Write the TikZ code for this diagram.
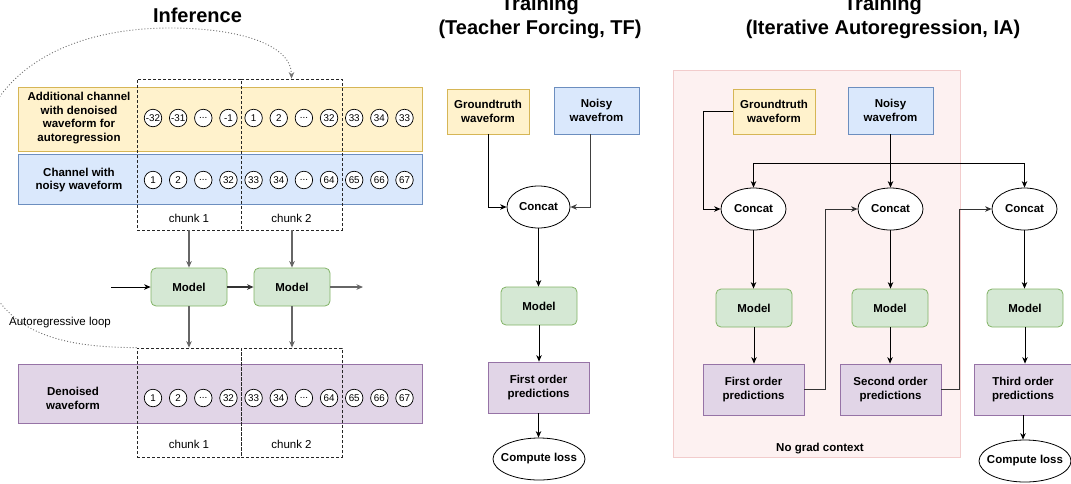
\documentclass[tikz,border=0pt]{standalone}
\usepackage{fontspec}
\setmainfont{Liberation Sans}
\usetikzlibrary{arrows.meta,shapes.geometric}
\definecolor{ylF}{HTML}{FFF2CC}\definecolor{ylD}{HTML}{D6B656}
\definecolor{blF}{HTML}{DAE8FC}\definecolor{blD}{HTML}{6C8EBF}
\definecolor{grF}{HTML}{D5E8D4}\definecolor{grD}{HTML}{82B366}
\definecolor{puF}{HTML}{E1D5E7}\definecolor{puD}{HTML}{9673A6}
\definecolor{pkF}{HTML}{FDF1F1}\definecolor{pkD}{HTML}{F2CCCC}
\definecolor{lnG}{HTML}{666666}
\newcommand{\ellip}{...}
\begin{document}
\begin{tikzpicture}[x=1pt,y=-1pt,
  base/.style={font=\fontsize{11.5}{13.8}\selectfont\bfseries, align=center, inner sep=0pt, line width=0.8pt},
  plain/.style={font=\fontsize{11.5}{13.8}\selectfont, align=center, inner sep=0pt},
  ybox/.style={base, draw=ylD, fill=ylF},
  bbox/.style={base, draw=blD, fill=blF},
  gbox/.style={base, draw=grD, fill=grF, rounded corners=5pt},
  pbox/.style={base, draw=puD, fill=puF},
  ell/.style={base, ellipse, draw=black, fill=white, inner xsep=-7pt, inner ysep=0pt},
  chunkbox/.style={draw=black!85, dashed, dash pattern=on 3pt off 2pt, line width=0.7pt, inner sep=0pt},
  cnum/.style={circle, draw=black, fill=white, minimum size=17.5pt, inner sep=0pt, line width=0.7pt, font=\fontsize{9.8}{10}\selectfont},
  ttl/.style={font=\fontsize{20}{24}\selectfont\bfseries, align=center, inner sep=0pt},
  arr/.style={-{Stealth[length=6.5pt,width=5.5pt,inset=2pt]}, line width=0.8pt},
  garr/.style={arr, lnG, line width=1.1pt},
]
\useasboundingbox (0,0) rectangle (1071,483);
\clip (0,0) rectangle (1071,483);

% ---------------- Inference ----------------
\node[ttl] (tinf) at (197.5,15) {Inference};

\node[ybox, minimum width=404pt, minimum height=64pt] (band1) at (220,119) {};
\node[bbox, minimum width=404pt, minimum height=50pt] (band2) at (220,179) {};
\node[pbox, minimum width=404pt, minimum height=59pt] (band3) at (220,393.5) {};

\node[base] (lab1) at (79,118) {Additional channel\\with denoised\\waveform for\\autoregression};
\node[base] (lab2) at (79,180) {Channel with\\noisy waveform};
\node[base] (lab3) at (73,398) {Denoised\\waveform};

\node[chunkbox, minimum width=104pt, minimum height=151pt] (c1t) at (189,154.5) {};
\node[chunkbox, minimum width=101pt, minimum height=151pt] (c2t) at (291.5,154.5) {};
\node[chunkbox, minimum width=104pt, minimum height=109pt] (c1b) at (189,402.5) {};
\node[chunkbox, minimum width=101pt, minimum height=109pt] (c2b) at (291.5,402.5) {};

\node[plain] (k1t) at (189,218) {chunk 1};
\node[plain] (k2t) at (291.5,218) {chunk 2};
\node[plain] (k1b) at (189,444) {chunk 1};
\node[plain] (k2b) at (291.5,444) {chunk 2};

\foreach \t [count=\i from 0] in {-32,-31,\ellip,-1,1,2,\ellip,32,33,34,33}
  \node[cnum] (ya\i) at (153+25.15*\i,118) {\t};
\foreach \t [count=\i from 0] in {1,2,\ellip,32,33,34,\ellip,64,65,66,67}
  \node[cnum] (bl\i) at (153+25.15*\i,180) {\t};
\foreach \t [count=\i from 0] in {1,2,\ellip,32,33,34,\ellip,64,65,66,67}
  \node[cnum] (pu\i) at (153+25.15*\i,398) {\t};

\node[gbox, minimum width=76pt, minimum height=38pt] (m1) at (189,287) {Model};
\node[gbox, minimum width=76pt, minimum height=38pt] (m2) at (292,287) {Model};

\coordinate (inL) at (111,287);
\coordinate (outR) at (363,287);
\draw[garr] (c1t.south) -- (m1.north);
\draw[garr] (c2t.south -| m2.north) -- (m2.north);
\draw[garr] (m1.south) -- (c1b.north);
\draw[garr] (m2.south) -- (m2.south |- c2b.north);
\draw[arr, black] (inL) -- (m1.west);
\draw[garr, black!80] (m1.east) -- (m2.west);
\draw[garr] (m2.east) -- (outR);

\draw[arr, black!55, dash pattern=on 1pt off 2pt, line width=0.9pt]
  (c1b.north west) .. controls (30,347) and (-28,320) .. (-28,190)
  .. controls (-28,70) and (70,28) .. (170,28)
  .. controls (240,28) and (291.5,45) .. (c2t.north);
\node[plain] (loop) at (60,323) {Autoregressive loop};

% ---------------- Training TF ----------------
\node[ttl] (ttf) at (540,17.8) {Training\\(Teacher Forcing, TF)};
\node[ybox, minimum width=82pt, minimum height=45pt] (gt1) at (488,111.5) {Groundtruth\\waveform};
\node[bbox, minimum width=85pt, minimum height=47pt] (ns1) at (596.5,110.5) {Noisy\\wavefrom};
\node[ell, minimum width=63pt, minimum height=42pt] (cc1) at (538.5,207) {Concat};
\node[gbox, minimum width=76pt, minimum height=38pt] (md1) at (539,306) {Model};
\node[pbox, minimum width=101pt, minimum height=51pt] (fp1) at (538.5,387.5) {First order\\predictions};
\node[ell, minimum width=92pt, minimum height=42pt] (cl1) at (539,459) {Compute loss};

\draw[arr] (gt1.south) |- (cc1.west);
\draw[arr, black!75] ([xshift=-6.5pt]ns1.south) |- (cc1.east);
\draw[arr] (cc1.south) -- (cc1.south |- md1.north);
\draw[arr] (md1.south) -- (md1.south |- fp1.north);
\draw[arr] (fp1.south) -- (fp1.south |- cl1.north);

% ---------------- Training IA ----------------
\node[ttl] (tia) at (883,17.8) {Training\\(Iterative Autoregression, IA)};
\node[draw=pkD, fill=pkF, line width=0.8pt, minimum width=287pt, minimum height=387pt, inner sep=0pt] (bg) at (816.5,263.5) {};
\node[base] (ngc) at (820,449) {No grad context};

\node[ybox, minimum width=82pt, minimum height=45pt] (gt2) at (774,111.5) {Groundtruth\\waveform};
\node[bbox, minimum width=85pt, minimum height=47pt] (ns2) at (890.5,110.5) {Noisy\\wavefrom};
\node[ell, minimum width=65pt, minimum height=42pt] (ca) at (753.5,209) {Concat};
\node[ell, minimum width=65pt, minimum height=42pt] (cb) at (890.5,209) {Concat};
\node[ell, minimum width=65pt, minimum height=42pt] (cc) at (1024.5,209) {Concat};
\node[gbox, minimum width=76pt, minimum height=38pt] (ma) at (754,308) {Model};
\node[gbox, minimum width=76pt, minimum height=38pt] (mb) at (890,308) {Model};
\node[gbox, minimum width=76pt, minimum height=38pt] (mc) at (1025,308) {Model};
\node[pbox, minimum width=101pt, minimum height=51pt] (pa) at (753.5,389.5) {First order\\predictions};
\node[pbox, minimum width=101pt, minimum height=51pt] (pb) at (890.5,389.5) {Second order\\predictions};
\node[pbox, minimum width=98pt, minimum height=51pt] (pc) at (1023,389.5) {Third order\\predictions};
\node[ell, minimum width=92pt, minimum height=42pt] (cl2) at (1025,461) {Compute loss};

\coordinate (br) at (890.5,163);
\draw[arr] (gt2.west) -- ++(-29,0) |- (ca.west);
\draw[arr] (ns2.south) -- (cb.north);
\draw[arr] (br) -| (ca.north);
\draw[arr] (br) -| (cc.north);
\draw[arr] (ca.south) -- (ca.south |- ma.north);
\draw[arr] (cb.south) -- (cb.south |- mb.north);
\draw[arr] (cc.south) -- (cc.south |- mc.north);
\draw[arr] (ma.south) -- (ma.south |- pa.north);
\draw[arr] (mb.south) -- (mb.south |- pb.north);
\draw[arr] (mc.south) -- (mc.south |- pc.north);
\draw[arr, black!80] (pa.east) -- ++(21,0) |- (cb.west);
\draw[arr, black!80] (pb.east) -- ++(18,0) |- (cc.west);
\draw[arr] (pc.south) -- (pc.south |- cl2.north);
\end{tikzpicture}
\end{document}
